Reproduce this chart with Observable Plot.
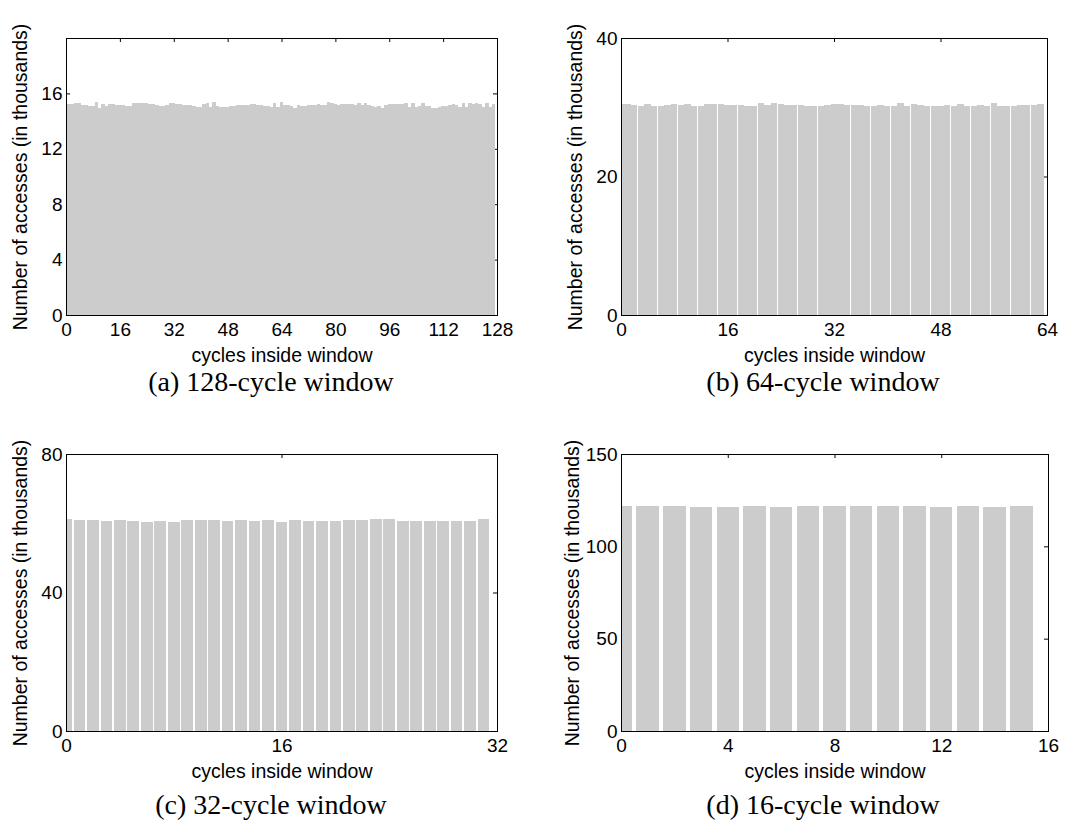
<!DOCTYPE html>
<html><head><meta charset="utf-8">
<script src="https://cdn.jsdelivr.net/npm/d3@7"></script>
<script src="https://cdn.jsdelivr.net/npm/@observablehq/plot@0.6"></script>
<style>
body{margin:0;background:#fff;}
#fig{position:relative;width:1067px;height:829px;background:#fff;overflow:hidden;}
.panel{position:absolute;}
.panel svg{overflow:visible;}
.cap{position:absolute;font-family:"Liberation Serif",serif;font-size:28px;line-height:28px;color:#000;white-space:nowrap;transform:translate(-50%,-50%);}
</style></head><body><div id="fig"></div>
<script>
// (a) 128-cycle window, thousands of accesses per cycle
const valuesA = [15.25,15.25,15.25,15.28,15.30,15.13,15.13,15.09,15.09,15.40,14.97,15.25,15.09,15.25,15.21,15.18,
15.15,15.13,15.09,15.09,15.28,15.28,15.30,15.28,15.28,15.21,15.21,15.18,15.09,15.09,15.18,15.28,
15.30,15.25,15.21,15.15,15.13,15.13,15.09,15.04,15.04,15.21,15.33,15.04,15.40,15.09,15.04,15.04,
15.04,15.09,15.09,15.13,15.13,15.13,15.18,15.25,15.25,15.18,15.13,15.09,15.09,15.04,15.33,15.04,
15.40,15.13,15.13,15.09,14.97,15.18,15.09,15.09,15.13,15.13,15.13,15.21,15.13,15.13,15.40,15.33,
15.21,15.13,15.21,15.21,15.25,15.25,15.13,15.33,15.13,15.28,15.13,15.09,15.04,15.09,14.97,15.13,
15.25,15.25,15.25,15.25,15.25,15.33,15.04,15.33,15.04,15.09,15.28,15.09,15.09,14.97,14.97,15.04,
15.09,15.09,15.13,15.21,15.13,15.04,15.33,15.04,15.33,15.21,15.33,15.21,15.04,15.28,15.04,15.21];
// (b) 64-cycle window
const valuesB = [30.44,30.44,30.39,30.25,30.54,30.25,30.25,30.34,30.54,30.39,30.54,30.25,30.25,30.49,30.49,30.54,
30.34,30.39,30.39,30.25,30.25,30.62,30.34,30.66,30.54,30.34,30.34,30.34,30.15,30.25,30.15,30.39,
30.54,30.54,30.39,30.39,30.34,30.25,30.15,30.34,30.15,30.25,30.62,30.25,30.54,30.39,30.15,30.15,
30.15,30.34,30.15,30.54,30.15,30.25,30.34,30.25,30.66,30.25,30.15,30.15,30.39,30.39,30.39,30.54];
// (c) 32-cycle window
const valuesC = [61.3,61.0,61.0,60.74,61.0,60.74,60.35,60.74,60.35,61.0,61.0,61.0,60.74,61.0,60.74,61.0,
60.35,61.0,60.74,60.74,60.74,61.0,61.0,61.3,61.3,60.74,60.74,60.74,60.74,60.74,60.74,61.3];
// (d) 16-cycle window
const valuesD = [121.6,121.6,121.6,121.1,121.1,121.6,121.1,121.6,121.6,121.6,121.6,121.6,121.1,121.6,121.1,121.6];

const xTicksA = [0,16,32,48,64,80,96,112,128];
const yTicksA = [0,4,8,12,16];
const xTicksB = [0,16,32,48,64];
const yTicksB = [0,20,40];
const xTicksC = [0,16,32];
const yTicksC = [0,40,80];
const xTicksD = [0,4,8,12,16];
const yTicksD = [0,50,100,150];

const captions = ["(a) 128-cycle window","(b) 64-cycle window","(c) 32-cycle window","(d) 16-cycle window"];
const xLabel = "cycles inside window";
const yLabel = "Number of accesses (in thousands)";

const fig = document.getElementById("fig");

function panel(o) {
  const data = o.values.map((v, i) => ({i, v}));
  const W = o.width - o.ml - o.mr, H = o.height - o.mt - o.mb;
  const bw = o.barWidth;
  const chart = Plot.plot({
    width: o.width, height: o.height,
    marginLeft: o.ml, marginRight: o.mr, marginTop: o.mt, marginBottom: o.mb,
    style: {fontFamily: "'Liberation Sans', Arial, sans-serif", fontSize: "19px", background: "transparent", color: "#000", overflow: "visible"},
    x: {domain: [0, o.xMax]},
    y: {domain: [0, o.yMax]},
    marks: [
      Plot.tickX(o.xTicks, {x: d => d, insetTop: H - 4, stroke: "#000"}),
      Plot.tickX(o.xTicks, {x: d => d, insetBottom: H - 4, stroke: "#000"}),
      Plot.tickY(o.yTicks, {y: d => d, insetRight: W - 4, stroke: "#000"}),
      Plot.tickY(o.yTicks, {y: d => d, insetLeft: W - 4, stroke: "#000"}),
      Plot.rectY(data, {x1: d => Math.max(0, d.i - bw / 2), x2: d => d.i + bw / 2, y: "v", fill: "#cccccc", shapeRendering: "crispEdges"}),
      Plot.frame({stroke: "#000"}),
      Plot.axisX({ticks: o.xTicks, tickSize: 0, tickPadding: 7, label: null, fontSize: 19}),
      Plot.axisY({ticks: o.yTicks, tickSize: 0, tickPadding: 4, label: null, fontSize: 19}),
      Plot.text([xLabel], {frameAnchor: "bottom", dy: 40, lineAnchor: "middle", textAnchor: "middle", text: d => d, fontSize: 19.5}),
      Plot.text([yLabel], {frameAnchor: "left", dx: o.ylDx, rotate: -90, lineAnchor: "middle", textAnchor: "middle", text: d => d, fontSize: 19.5})
    ]
  });
  const wrap = document.createElement("div");
  wrap.className = "panel";
  wrap.style.left = o.left + "px";
  wrap.style.top = o.top + "px";
  wrap.appendChild(chart);
  fig.appendChild(wrap);
  const cap = document.createElement("div");
  cap.className = "cap";
  cap.textContent = o.caption;
  cap.style.left = o.capX + "px";
  cap.style.top = o.capY + "px";
  fig.appendChild(cap);
}

panel({values: valuesA, barWidth: 1.0, xMax: 128, xTicks: xTicksA, yMax: 20, yTicks: yTicksA,
  left: 0, top: 0, width: 533, height: 370, ml: 66, mr: 36, mt: 38, mb: 55, ylDx: -46,
  caption: captions[0], capX: 271, capY: 382});
panel({values: valuesB, barWidth: 0.95, xMax: 64, xTicks: xTicksB, yMax: 40, yTicks: yTicksB,
  left: 533, top: 0, width: 534, height: 370, ml: 88, mr: 20, mt: 38, mb: 55, ylDx: -46,
  caption: captions[1], capX: 823, capY: 382});
panel({values: valuesC, barWidth: 0.87, xMax: 32, xTicks: xTicksC, yMax: 80, yTicks: yTicksC,
  left: 0, top: 416, width: 533, height: 370, ml: 66, mr: 36, mt: 38, mb: 55, ylDx: -46,
  caption: captions[2], capX: 271, capY: 805});
panel({values: valuesD, barWidth: 0.84, xMax: 16, xTicks: xTicksD, yMax: 150, yTicks: yTicksD,
  left: 533, top: 416, width: 534, height: 370, ml: 88, mr: 19, mt: 38, mb: 55, ylDx: -49,
  caption: captions[3], capX: 823, capY: 805});
</script></body></html>
